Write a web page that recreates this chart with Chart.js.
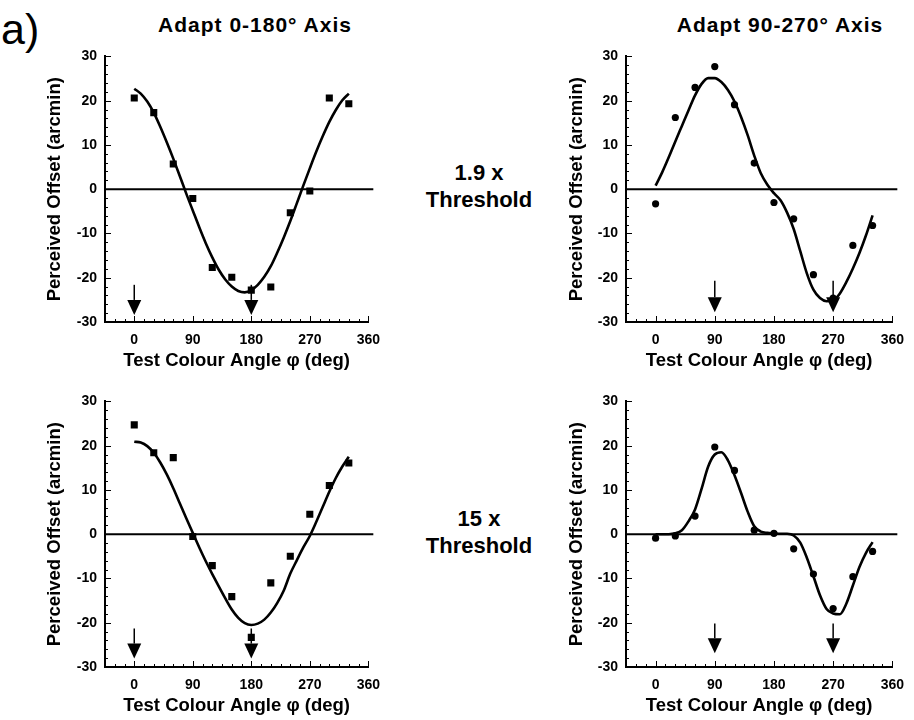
<!DOCTYPE html>
<html>
<head>
<meta charset="utf-8">
<script src="https://cdn.jsdelivr.net/npm/chart.js@4.4.1/dist/chart.umd.min.js"></script>
<style>
  html, body { margin: 0; padding: 0; background: #fff; }
  body { width: 914px; height: 720px; position: relative; overflow: hidden;
         font-family: "Liberation Sans", Arial, sans-serif; color: #000; }
  canvas { position: absolute; }
  .lbl { position: absolute; font-weight: bold; white-space: nowrap; text-align: center;
         transform: translateX(-50%); }
</style>
</head>
<body>
<div style="position:absolute;left:1px;top:8px;font-size:43px;line-height:1;">a)</div>
<div class="lbl" style="left:255px;top:14px;font-size:21px;line-height:1;letter-spacing:1px;">Adapt 0-180° Axis</div>
<div class="lbl" style="left:780px;top:14px;font-size:21px;line-height:1;letter-spacing:1px;">Adapt 90-270° Axis</div>
<div class="lbl" style="left:479px;top:159px;font-size:22px;line-height:27px;">1.9 x<br>Threshold</div>
<div class="lbl" style="left:479px;top:505px;font-size:22px;line-height:27px;">15 x<br>Threshold</div>

<canvas id="topLeft" width="390" height="332" style="left:0;top:40px;"></canvas>
<canvas id="topRight" width="374" height="332" style="left:540px;top:40px;"></canvas>
<canvas id="bottomLeft" width="390" height="332" style="left:0;top:385px;"></canvas>
<canvas id="bottomRight" width="374" height="332" style="left:540px;top:385px;"></canvas>

<script>
// test colour angles (deg) of the measured points
const testAngles = [0, 30, 60, 90, 120, 150, 180, 210, 240, 270, 300, 330];
const fitAngles = [0, 10, 20, 30, 40, 50, 60, 70, 80, 90, 100, 110, 120, 130, 140, 150, 160,
  170, 180, 190, 200, 210, 220, 230, 240, 250, 260, 270, 280, 290, 300, 310, 320, 330];

// 1.9 x threshold, adapt 0-180
const adapt0LowPoints = [20.6, 17.3, 5.7, -2.1, -17.7, -19.9, -22.8, -22.1, -5.3, -0.4, 20.6, 19.3];
const adapt0LowFit = [22.7, 21.6, 19.8, 17.3, 14.1, 10.6, 6.9, 3.0, -1.0, -4.8, -8.6, -12.2, -15.4,
  -18.2, -20.4, -22.0, -23.0, -23.3, -22.8, -21.6, -19.8, -17.4, -14.3, -10.9, -7.2, -3.2, 0.8,
  4.7, 8.5, 12.0, 15.2, 17.9, 20.1, 21.6];

// 1.9 x threshold, adapt 90-270
const adapt90LowPoints = [-3.3, 16.2, 23.0, 27.7, 19.1, 5.9, -3.0, -6.7, -19.3, -24.6, -12.7, -8.2];
const adapt90LowFit = [0.8, 3.8, 7.2, 10.8, 14.3, 17.8, 21.2, 23.8, 25.1, 25.1, 24.2, 22.4, 19.8,
  16.3, 12.2, 7.6, 3.6, 1.0, -0.9, -2.5, -5.3, -9.0, -14.0, -19.0, -22.7, -24.6, -25.3, -25.1,
  -23.6, -21.0, -17.9, -14.4, -10.4, -5.9];

// 15 x threshold, adapt 0-180
const adapt0HighPoints = [24.7, 18.4, 17.3, -0.5, -7.1, -14.1, -23.3, -11.0, -5.0, 4.5, 11.0, 16.1];
const adapt0HighFit = [20.9, 20.7, 19.9, 18.4, 16.2, 13.5, 10.4, 7.0, 3.6, 0.3, -3.0, -6.1, -9.0,
  -11.8, -14.5, -17.0, -18.9, -20.1, -20.5, -20.2, -19.3, -17.7, -15.5, -12.7, -8.9, -5.9, -3.0,
  -0.4, 2.8, 6.2, 9.6, 12.7, 15.3, 17.5];

// 15 x threshold, adapt 90-270
const adapt90HighPoints = [-0.9, -0.4, 4.1, 19.7, 14.4, 0.9, 0.2, -3.3, -9.0, -16.8, -9.6, -3.9];
const adapt90HighFit = [0.0, 0.0, 0.0, 0.2, 0.9, 2.9, 5.6, 10.3, 15.3, 18.0, 18.5, 16.7, 13.3,
  9.3, 5.1, 1.8, 0.6, 0.3, 0.2, 0.1, 0.1, -0.3, -1.9, -5.3, -9.5, -13.8, -16.9, -17.9, -18.1,
  -15.7, -11.6, -7.4, -4.2, -1.8];

// adapting axis directions, marked with arrows
const adapt0Arrows = [0, 180];
const adapt90Arrows = [90, 270];

const xTickValues = [0, 90, 180, 270, 360];
const yTickValues = [-30, -20, -10, 0, 10, 20, 30];

Chart.defaults.font.family = '"Liberation Sans", Arial, sans-serif';
Chart.defaults.color = '#000';

// inner tick marks, zero line and arrows
const panelMarks = {
  id: 'panelMarks',
  beforeDatasetsDraw(chart) {
    const { ctx, chartArea, scales: { x, y } } = chart;
    ctx.save();
    ctx.strokeStyle = '#000';
    ctx.lineWidth = 1;
    for (let v = -30; v <= 30; v += 2) {
      const py = Math.round(y.getPixelForValue(v)) + 0.5;
      const len = v % 10 === 0 ? 6 : 3;
      ctx.beginPath();
      ctx.moveTo(chartArea.left, py);
      ctx.lineTo(chartArea.left + len, py);
      ctx.stroke();
    }
    for (let a = -45; a <= 360; a += 15) {
      const px = Math.round(x.getPixelForValue(a)) + 0.5;
      const len = a % 90 === 0 ? 6 : 3;
      ctx.beginPath();
      ctx.moveTo(px, chartArea.bottom);
      ctx.lineTo(px, chartArea.bottom - len);
      ctx.stroke();
    }
    const y0 = y.getPixelForValue(0);
    ctx.lineWidth = 2;
    ctx.beginPath();
    ctx.moveTo(chartArea.left, y0);
    ctx.lineTo(chartArea.right + 5, y0);
    ctx.stroke();
    ctx.restore();
  },
  afterDatasetsDraw(chart, args, opts) {
    const { ctx, scales: { x, y } } = chart;
    ctx.save();
    ctx.fillStyle = '#000';
    ctx.strokeStyle = '#000';
    ctx.lineWidth = 1.5;
    opts.angles.forEach(a => {
      const px = x.getPixelForValue(a);
      const top = y.getPixelForValue(opts.from);
      const tip = y.getPixelForValue(opts.to);
      const headTop = tip - 15;
      ctx.beginPath();
      ctx.moveTo(px, top);
      ctx.lineTo(px, headTop);
      ctx.stroke();
      ctx.beginPath();
      ctx.moveTo(px - 7, headTop);
      ctx.lineTo(px + 7, headTop);
      ctx.lineTo(px, tip);
      ctx.closePath();
      ctx.fill();
    });
    ctx.restore();
  }
};

function drawPanel(id, points, fit, marker, arrows, from, to, yTitlePad, yWidth, rightPad) {
  const boldTick = { size: 14, weight: 'bold' };
  const boldTitle = { size: 18.5, weight: 'bold' };
  new Chart(document.getElementById(id), {
    type: 'scatter',
    data: {
      datasets: [
        {
          data: testAngles.map((a, i) => ({ x: a, y: points[i] })),
          pointStyle: marker,
          pointRadius: marker === 'rect' ? 5 : 3.6,
          backgroundColor: '#000',
          borderColor: '#000',
          borderWidth: 0,
        },
        {
          data: fitAngles.map((a, i) => ({ x: a, y: fit[i] })),
          showLine: true,
          borderColor: '#000',
          borderWidth: 2.6,
          pointRadius: 0,
          cubicInterpolationMode: 'monotone',
        },
      ],
    },
    options: {
      responsive: false,
      animation: false,
      events: [],
      layout: { padding: { top: 12, right: rightPad, bottom: 0, left: 0 } },
      scales: {
        x: {
          type: 'linear',
          min: -45,
          max: 360,
          afterBuildTicks: s => { s.ticks = xTickValues.map(v => ({ value: v })); },
          afterFit: s => { s.height = 50; },
          ticks: { font: boldTick, padding: 10, autoSkip: false, maxRotation: 0 },
          grid: { display: false, drawTicks: false },
          border: { display: true, color: '#000', width: 2 },
          title: { display: true, text: 'Test Colour Angle φ (deg)', font: boldTitle, padding: 0 },
        },
        y: {
          min: -30,
          max: 30,
          afterBuildTicks: s => { s.ticks = yTickValues.map(v => ({ value: v })); },
          afterFit: s => { s.width = yWidth; },
          ticks: { font: boldTick, padding: 8 },
          grid: { display: false, drawTicks: false },
          border: { display: true, color: '#000', width: 2 },
          title: { display: true, text: 'Perceived Offset (arcmin)', font: boldTitle,
                   padding: { top: yTitlePad, bottom: 0 } },
        },
      },
      plugins: {
        legend: { display: false },
        tooltip: { enabled: false },
        panelMarks: { angles: arrows, from: from, to: to },
      },
    },
    plugins: [panelMarks],
  });
}

drawPanel('topLeft', adapt0LowPoints, adapt0LowFit, 'rect', adapt0Arrows, -21.6, -28.4, 44, 105, 15);
drawPanel('topRight', adapt90LowPoints, adapt90LowFit, 'circle', adapt90Arrows, -20.7, -27.8, 26, 86, 18);
drawPanel('bottomLeft', adapt0HighPoints, adapt0HighFit, 'rect', adapt0Arrows, -21.3, -28.1, 44, 105, 15);
drawPanel('bottomRight', adapt90HighPoints, adapt90HighFit, 'circle', adapt90Arrows, -20.2, -26.9, 26, 86, 18);
</script>
</body>
</html>
